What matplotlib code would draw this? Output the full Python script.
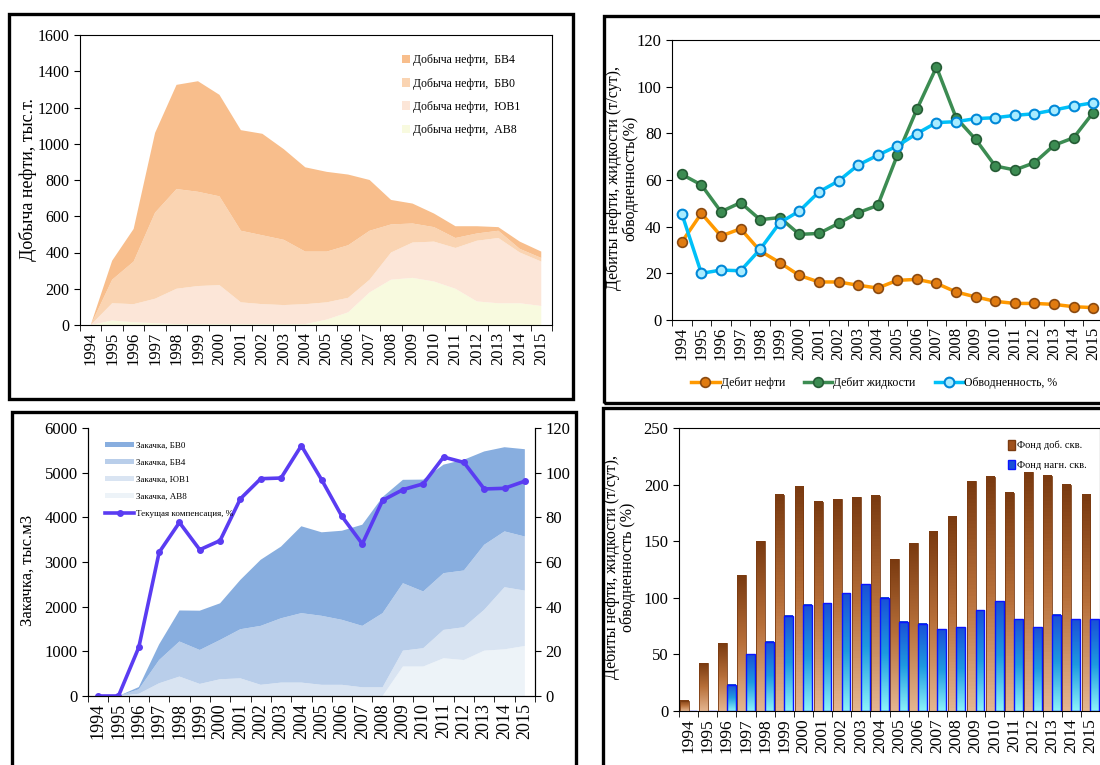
import numpy as np
import matplotlib
matplotlib.use('Agg')
import matplotlib.pyplot as plt
from matplotlib.patches import Rectangle, Patch
from matplotlib.colors import LinearSegmentedColormap

plt.rcParams['font.family'] = ['Liberation Serif', 'DejaVu Serif']

YEARS = [str(y) for y in range(1994, 2016)]

# Добыча нефти по пластам, тыс.т
oil_av8 = [0, 25, 15, 10, 5, 5, 5, 5, 5, 5, 5, 30, 70, 180, 250, 260, 240, 200, 130, 120, 120, 105]
oil_yv1 = [0, 95, 100, 135, 195, 210, 215, 120, 110, 105, 110, 95, 80, 70, 150, 195, 220, 225, 335, 360, 280, 245]
oil_bv0 = [0, 130, 235, 475, 550, 520, 490, 395, 380, 360, 290, 280, 290, 270, 155, 105, 80, 55, 40, 40, 20, 20]
oil_bv4 = [0, 105, 180, 440, 575, 610, 560, 555, 560, 500, 465, 440, 390, 280, 135, 110, 75, 65, 40, 20, 40, 35]

# Дебиты (т/сут) и обводненность (%)
rate_oil = [33.4, 45.7, 36, 39.1, 29.6, 24.6, 19.1, 16.3, 16.3, 14.9, 13.7, 17, 17.4, 15.7, 12, 9.9, 8, 7.1, 7.1, 6.7, 5.7, 5.3]
rate_liq = [62.4, 57.9, 46.4, 50.3, 43, 43.9, 36.7, 37.1, 41.4, 46, 49.1, 70.6, 90.3, 108.4, 86.7, 77.4, 66, 64.3, 67.4, 74.9, 78.1, 88.9]
water_cut = [45.6, 20, 21.4, 21.1, 30.3, 41.7, 46.7, 54.9, 59.6, 66.4, 70.6, 74.6, 79.9, 84.6, 85, 86.3, 86.7, 87.7, 88.4, 90, 91.7, 93.1]

# Закачка по пластам, тыс.м3 и текущая компенсация, %
inj_av8 = [0, 0, 0, 0, 0, 0, 0, 0, 0, 0, 0, 0, 0, 0, 0, 660, 660, 845, 805, 1015, 1045, 1120]
inj_yv1 = [0, 0, 50, 285, 435, 270, 375, 395, 250, 300, 300, 250, 250, 195, 195, 355, 410, 635, 735, 915, 1390, 1240]
inj_bv4 = [0, 0, 100, 520, 785, 760, 880, 1100, 1320, 1440, 1555, 1545, 1455, 1375, 1660, 1510, 1270, 1270, 1270, 1455, 1250, 1210]
inj_bv0 = [0, 0, 50, 350, 695, 880, 820, 1105, 1480, 1605, 1945, 1870, 1995, 2265, 2600, 2315, 2505, 2430, 2480, 2090, 1885, 1955]
compensation = [0, 0, 21.8, 64.3, 77.7, 65.5, 69.6, 88.3, 97.3, 97.6, 112.1, 96.8, 80.4, 68.1, 87.6, 92.4, 95, 107, 104.6, 92.7, 93, 96.2]

# Фонд скважин
wells_prod = [9, 42, 60, 120, 150, 191, 198, 185, 187, 189, 190, 134, 148, 159, 172, 203, 207, 193, 211, 208, 200, 191]
wells_inj = [0, 0, 23, 50, 61, 84, 94, 95, 104, 112, 100, 79, 77, 72, 74, 89, 97, 81, 74, 85, 81, 81]

W, H = 1100, 765


def px_rect(x0, y0, x1, y1):
    return [x0 / W, 1 - y1 / H, (x1 - x0) / W, (y1 - y0) / H]


def frame(fig, x0, y0, x1, y1):
    fig.add_artist(Rectangle((x0 / W, 1 - y1 / H), (x1 - x0) / W, (y1 - y0) / H,
                             fill=False, lw=2.4, ec='black', transform=fig.transFigure))


def setup_years(ax, fontsize):
    x = np.arange(len(YEARS))
    ax.set_xlim(-0.5, len(YEARS) - 0.5)
    ax.set_xticks(x)
    ax.set_xticklabels(YEARS, rotation=90, fontsize=fontsize)
    ax.set_xticks(np.arange(-0.5, len(YEARS)), minor=True)
    ax.tick_params(axis='x', which='major', length=0, pad=5)
    ax.tick_params(axis='x', which='minor', length=4, direction='out')


def gradient_bars(ax, bars, cmap):
    grad = np.linspace(0, 1, 64).reshape(-1, 1)
    for b in bars:
        h = b.get_height()
        if h <= 0:
            continue
        x0, y0, w = b.get_x(), b.get_y(), b.get_width()
        ax.imshow(grad, extent=(x0, x0 + w, y0, y0 + h), origin='lower',
                  aspect='auto', cmap=cmap, zorder=2.5)
        b.set_facecolor('none')
        b.set_zorder(3)


fig = plt.figure(figsize=(11, 7.65), dpi=100)
x = np.arange(len(YEARS))

# ---- 1. Добыча нефти
ax1 = fig.add_axes(px_rect(80, 35, 552, 325))
oil_colors = ['#F8FADF', '#FCE6D8', '#FAD4B2', '#F8BE8C']
oil_labels = ['Добыча нефти,  АВ8', 'Добыча нефти,  ЮВ1', 'Добыча нефти,  БВ0', 'Добыча нефти,  БВ4']
ax1.stackplot(x, oil_av8, oil_yv1, oil_bv0, oil_bv4, colors=oil_colors, labels=oil_labels, lw=0)
ax1.set_ylim(0, 1600)
ax1.set_yticks(range(0, 1601, 200))
ax1.tick_params(axis='y', labelsize=11.5, length=4)
setup_years(ax1, 12)
h, l = ax1.get_legend_handles_labels()
ax1.legend(h[::-1], l[::-1], loc='upper left', bbox_to_anchor=(0.66, 0.97), frameon=False,
           fontsize=8.5, handlelength=0.7, handleheight=0.7, handletextpad=0.2, labelspacing=0.95)
fig.text(28 / W, 1 - 180 / H, 'Добыча нефти, тыс.т.', rotation=90, ha='center', va='center', fontsize=13)

# ---- 2. Дебиты
ax2 = fig.add_axes(px_rect(672, 40, 1103, 320))
ax2.plot(x, rate_oil, '-o', color='#FF9900', lw=2.5, ms=7, mfc='#E07B10', mec='#8B4A10', mew=1.2,
         label='Дебит нефти')
ax2.plot(x, rate_liq, '-o', color='#3C8C52', lw=2.5, ms=7, mfc='#3C8C52', mec='#255C35', mew=1.2,
         label='Дебит жидкости')
ax2.plot(x, water_cut, '-o', color='#00C0F8', lw=2.5, ms=7, mfc='#A8ECFF', mec='#0088D8', mew=1.5,
         label='Обводненность, %')
ax2.set_ylim(0, 120)
ax2.set_yticks(range(0, 121, 20))
ax2.tick_params(axis='y', labelsize=12, length=4)
setup_years(ax2, 12)
ax2.legend(loc='center left', bbox_to_anchor=(0.02, -0.225), ncol=3, frameon=False, fontsize=8.5,
           handlelength=2.4, handletextpad=0.1, columnspacing=1.6)
fig.text(622 / W, 1 - 178 / H, 'Дебиты нефти, жидкости (т/сут),\nобводненность(%)', rotation=90,
         ha='center', va='center', fontsize=11.5, linespacing=1.0)

# ---- 3. Закачка
ax3 = fig.add_axes(px_rect(88, 428, 535, 696))
inj_colors = ['#EDF3F8', '#D9E4F2', '#B9CEEA', '#88AEDF']
inj_labels = ['Закачка, АВ8', 'Закачка, ЮВ1', 'Закачка, БВ4', 'Закачка, БВ0']
ax3.stackplot(x, inj_av8, inj_yv1, inj_bv4, inj_bv0, colors=inj_colors, labels=inj_labels, lw=0)
ax3.set_ylim(0, 6000)
ax3.set_yticks(range(0, 6001, 1000))
ax3.tick_params(axis='y', labelsize=12, length=4)
ax3.spines['top'].set_visible(False)
setup_years(ax3, 13)
ax3b = ax3.twinx()
ax3b.plot(x, compensation, '-o', color='#5A3CF2', lw=2.6, ms=4, label='Текущая компенсация, %')
ax3b.set_ylim(0, 120)
ax3b.set_yticks(range(0, 121, 20))
ax3b.tick_params(axis='y', labelsize=12, length=4)
ax3b.spines['top'].set_visible(False)
h, l = ax3.get_legend_handles_labels()
h2, l2 = ax3b.get_legend_handles_labels()
ax3b.legend(h[::-1] + h2, l[::-1] + l2, loc='upper left', bbox_to_anchor=(0.02, 0.98), frameon=False,
            fontsize=6.5, handlelength=3.2, handleheight=0.5, handletextpad=0.2, labelspacing=1.0)
fig.text(28 / W, 1 - 570 / H, 'Закачка, тыс.м3', rotation=90, ha='center', va='center', fontsize=12)

# ---- 4. Фонд скважин
ax4 = fig.add_axes(px_rect(679, 428, 1100, 711))
brown = LinearSegmentedColormap.from_list('brown', ['#E4B58F', '#B8703A', '#7A3A10'])
blue = LinearSegmentedColormap.from_list('blue', ['#8AF2FA', '#1E9BE0', '#1A50D8'])
b1 = ax4.bar(x - 0.23, wells_prod, 0.46, ec='#7A3A10', lw=0.6)
b2 = ax4.bar(x + 0.23, wells_inj, 0.46, ec='#0A14FF', lw=1.0)
gradient_bars(ax4, b1, brown)
gradient_bars(ax4, b2, blue)
ax4.set_ylim(0, 250)
ax4.set_yticks(range(0, 251, 50))
ax4.tick_params(axis='y', labelsize=12, length=4)
setup_years(ax4, 12.5)
ax4.legend([Patch(fc='#A0521E', ec='#7A3A10'), Patch(fc='#1A50D8', ec='#0A14FF')],
           ['Фонд доб. скв.', 'Фонд нагн. скв.'], loc='upper right', bbox_to_anchor=(0.99, 0.99),
           frameon=False, fontsize=7.5, handlelength=0.6, handleheight=1.0, handletextpad=0.2,
           labelspacing=0.9)
fig.text(620 / W, 1 - 567 / H, 'Дебиты нефти, жидкости (т/сут),\nобводненность (%)', rotation=90,
         ha='center', va='center', fontsize=11.5, linespacing=1.0)

# ---- рамки
frame(fig, 9, 14, 573, 399)
frame(fig, 604, 16, 1110, 403)
frame(fig, 12, 412, 576, 775)
frame(fig, 603, 408, 1110, 775)

fig.savefig('out.png', dpi=100)
